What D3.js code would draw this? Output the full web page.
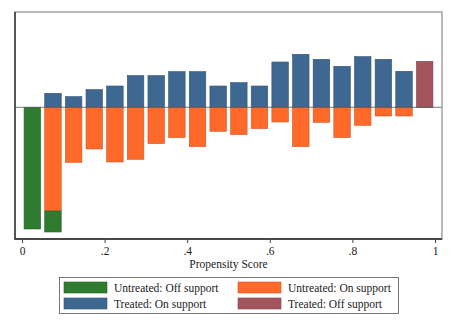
<!DOCTYPE html>
<html>
<head>
<meta charset="utf-8">
<script src="https://cdn.jsdelivr.net/npm/d3@7.9.0/dist/d3.min.js"></script>
<style>
  body { margin: 0; background: #fff; }
  svg { display: block; font-family: "Liberation Serif", "Times New Roman", serif; }
</style>
</head>
<body>
<svg id="chart" width="454" height="330"></svg>
<script>
// bin lower edges (width .05)
const binStarts = [0, .05, .1, .15, .2, .25, .3, .35, .4, .45, .5, .55, .6, .65, .7, .75, .8, .85, .9, .95];
const binWidth = 0.05;

// frequencies (treated above zero, untreated below)
const treatedOn = [0, 14, 10.7, 17.7, 21.3, 31.7, 31.7, 35.7, 35.7, 21.3, 24.7, 21.3, 45.3, 53, 48, 41, 50.7, 48, 36, 0];
const treatedOff = [0, 0, 0, 0, 0, 0, 0, 0, 0, 0, 0, 0, 0, 0, 0, 0, 0, 0, 0, 46];
const untreatedOn = [0, 103.7, 55, 41.7, 54.7, 52, 36.3, 30.3, 39.3, 24, 27.3, 21.3, 14.7, 39.3, 15, 30.3, 18, 8.7, 8.7, 0];
const untreatedOff = [121.7, 21, 0, 0, 0, 0, 0, 0, 0, 0, 0, 0, 0, 0, 0, 0, 0, 0, 0, 0];

const xTicks = [0, .2, .4, .6, .8, 1];
const xTickLabels = ['0', '.2', '.4', '.6', '.8', '1'];

const legendItems = [
  { label: 'Untreated: Off support', color: '#2f7b30' },
  { label: 'Untreated: On support', color: '#ff6a2b' },
  { label: 'Treated: On support', color: '#3e6891' },
  { label: 'Treated: Off support', color: '#a3545e' },
];

const svg = d3.select('#chart');
const frame = { left: 15, top: 12, right: 442, bottom: 239 };

const x = d3.scaleLinear().domain([0, 1]).range([22, 435]);
const y = d3.scaleLinear().domain([-131.7, 95.3]).range([frame.bottom, frame.top]);

// build stacked segments: [start, end] in data units
const segments = [];
binStarts.forEach((b, i) => {
  if (treatedOn[i]) segments.push({ b, y0: 0, y1: treatedOn[i], color: legendItems[2].color });
  if (treatedOff[i]) segments.push({ b, y0: treatedOn[i], y1: treatedOn[i] + treatedOff[i], color: legendItems[3].color });
  if (untreatedOn[i]) segments.push({ b, y0: 0, y1: -untreatedOn[i], color: legendItems[1].color });
  if (untreatedOff[i]) segments.push({ b, y0: -untreatedOn[i], y1: -untreatedOn[i] - untreatedOff[i], color: legendItems[0].color });
});

svg.append('g')
  .selectAll('rect')
  .data(segments)
  .join('rect')
  .attr('x', (d) => x(d.b + binWidth * 0.1))
  .attr('width', (d) => x(d.b + binWidth * 0.9) - x(d.b + binWidth * 0.1))
  .attr('y', (d) => y(Math.max(d.y0, d.y1)))
  .attr('height', (d) => Math.abs(y(d.y0) - y(d.y1)))
  .attr('fill', (d) => d.color)
  .attr('stroke', (d) => d3.color(d.color).darker(0.6))
  .attr('stroke-width', 0.6);

// zero line
svg.append('line')
  .attr('x1', frame.left).attr('x2', frame.right)
  .attr('y1', y(0)).attr('y2', y(0))
  .attr('stroke', '#555').attr('stroke-width', 0.8);

// plot frame
svg.append('rect')
  .attr('x', frame.left).attr('y', frame.top)
  .attr('width', frame.right - frame.left).attr('height', frame.bottom - frame.top)
  .attr('fill', 'none').attr('stroke', '#8a8a8a').attr('stroke-width', 1.2);
svg.append('path')
  .attr('d', `M${frame.left},${frame.top}V${frame.bottom}H${frame.right}`)
  .attr('fill', 'none').attr('stroke', '#222').attr('stroke-width', 1.3);

// x axis
const xAxis = d3.axisBottom(x)
  .tickValues(xTicks)
  .tickFormat((d, i) => xTickLabels[i])
  .tickSize(4)
  .tickPadding(4);

const axisG = svg.append('g')
  .attr('transform', `translate(0,${frame.bottom})`)
  .call(xAxis);
axisG.select('.domain').remove();
axisG.selectAll('line').attr('stroke', '#444');
axisG.selectAll('text')
  .attr('font-family', '"Liberation Serif", serif')
  .attr('font-size', 11.5)
  .attr('fill', '#222');

svg.append('text')
  .attr('x', (x(0) + x(1)) / 2)
  .attr('y', 268)
  .attr('text-anchor', 'middle')
  .attr('font-size', 11.5)
  .attr('fill', '#222')
  .text('Propensity Score');

// legend
const legend = svg.append('g');
legend.append('rect')
  .attr('x', 59.5).attr('y', 277.5)
  .attr('width', 339).attr('height', 36)
  .attr('fill', '#fff').attr('stroke', '#555').attr('stroke-width', 0.8);

const item = legend.selectAll('g.item')
  .data(legendItems)
  .join('g')
  .attr('class', 'item')
  .attr('transform', (d, i) => `translate(${i % 2 === 0 ? 64 : 238},${i < 2 ? 282 : 298})`);

item.append('rect')
  .attr('width', 43).attr('height', 11)
  .attr('fill', (d) => d.color)
  .attr('stroke', (d) => d3.color(d.color).darker(0.6))
  .attr('stroke-width', 0.6);

item.append('text')
  .attr('x', 50).attr('y', 9.5)
  .attr('font-size', 11.5)
  .attr('fill', '#222')
  .text((d) => d.label);
</script>
</body>
</html>
